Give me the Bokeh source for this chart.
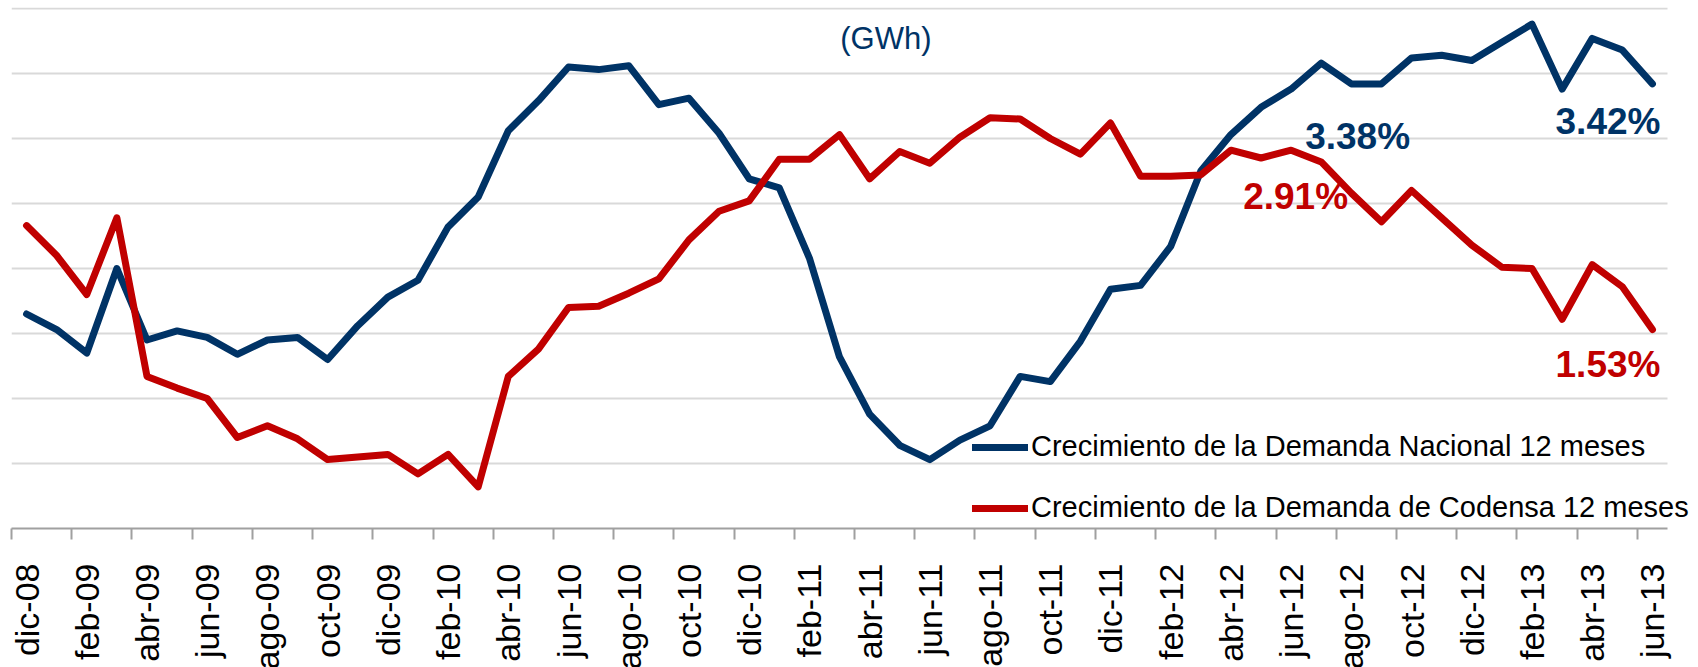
import math
from bokeh.plotting import figure
from bokeh.models import Range1d, FixedTicker, Legend, LegendItem, Label, ColumnDataSource
from bokeh.core.properties import value
from bokeh.embed import file_html
from bokeh.resources import INLINE

# ---------------- data ----------------
months = list(range(55))  # dic-08 .. jun-13
tick_labels = ["dic-08", "feb-09", "abr-09", "jun-09", "ago-09", "oct-09", "dic-09",
               "feb-10", "abr-10", "jun-10", "ago-10", "oct-10", "dic-10", "feb-11",
               "abr-11", "jun-11", "ago-11", "oct-11", "dic-11", "feb-12", "abr-12",
               "jun-12", "ago-12", "oct-12", "dic-12", "feb-13", "abr-13", "jun-13"]
nacional = [1.65, 1.53, 1.35, 2.00, 1.45, 1.52, 1.47, 1.34, 1.45, 1.47, 1.30, 1.56, 1.78, 1.91,
            2.32, 2.55, 3.06, 3.29, 3.55, 3.53, 3.56, 3.26, 3.31, 3.04, 2.69, 2.62, 2.08, 1.32,
            0.88, 0.64, 0.53, 0.68, 0.79, 1.17, 1.13, 1.44, 1.84, 1.87, 2.17, 2.75, 3.03, 3.24,
            3.38, 3.58, 3.42, 3.42, 3.62, 3.64, 3.60, 3.74, 3.88, 3.38, 3.77, 3.68, 3.42]
codensa = [2.33, 2.10, 1.80, 2.39, 1.17, 1.08, 1.00, 0.70, 0.79, 0.69, 0.53, 0.55, 0.57, 0.42,
           0.57, 0.32, 1.17, 1.38, 1.70, 1.71, 1.81, 1.92, 2.22, 2.44, 2.52, 2.84, 2.84, 3.03,
           2.69, 2.90, 2.81, 3.01, 3.16, 3.15, 3.00, 2.88, 3.12, 2.71, 2.71, 2.72, 2.91, 2.85,
           2.91, 2.82, 2.58, 2.36, 2.60, 2.39, 2.18, 2.01, 2.00, 1.61, 2.03, 1.86, 1.53]
series_names = ["Crecimiento de la Demanda Nacional 12 meses",
                "Crecimiento de la Demanda de Codensa 12 meses"]
subtitle = "(GWh)"
y_grid_values = [0.5, 1.0, 1.5, 2.0, 2.5, 3.0, 3.5, 4.0]

# ---------------- style ----------------
NAVY = "#003366"
RED = "#C00000"
FONT = "Liberation Sans"
PX_Y = 130.0                      # pixels per 1 %
PX_X = 1656 / len(months)         # pixels per month
FRAME_W, FRAME_H = 1679, 521
X0, X1 = -0.5, len(months) - 0.5  # category extent

p = figure(frame_width=FRAME_W, frame_height=FRAME_H,
           min_border_left=11, min_border_right=0, min_border_top=7, min_border_bottom=131,
           x_range=Range1d(X0, X0 + FRAME_W / PX_X), y_range=Range1d(0, FRAME_H / PX_Y),
           output_backend="svg", toolbar_location=None,
           background_fill_color="white", border_fill_color="white")
p.outline_line_color = None
p.yaxis.visible = False
p.xgrid.visible = False
p.ygrid.visible = False

# horizontal gridlines limited to the category extent
p.segment(x0=[X0] * len(y_grid_values), x1=[X1] * len(y_grid_values),
          y0=y_grid_values, y1=y_grid_values, line_color="#D9D9D9", line_width=2)

# x axis: labels at every 2nd month centre, tick marks at category boundaries
xa = p.xaxis[0]
xa.bounds = (X0, X1)
xa.ticker = FixedTicker(ticks=months[::2],
                        minor_ticks=[m - 0.5 for m in months[::2]])
xa.major_label_overrides = {m: lab for m, lab in zip(months[::2], tick_labels)}
xa.major_label_orientation = math.pi / 2
xa.major_label_text_font = FONT
xa.major_label_text_font_size = "34px"
xa.major_label_text_color = "black"
xa.major_label_standoff = 24
xa.major_tick_line_color = None
xa.major_tick_out = 0
xa.major_tick_in = 0
xa.minor_tick_line_color = "#A0A0A0"
xa.minor_tick_line_width = 2
xa.minor_tick_out = 11
xa.minor_tick_in = 0
xa.axis_line_color = "#A0A0A0"
xa.axis_line_width = 2

r1 = p.line(months, nacional, line_color=NAVY, line_width=7,
            line_join="round", line_cap="round")
r2 = p.line(months, codensa, line_color=RED, line_width=7,
            line_join="round", line_cap="round")

# ---------------- value labels ----------------
last = len(months) - 1
mid = 42  # jun-12
right_lab = ColumnDataSource(dict(
    x=[last + 8 / PX_X, last + 8 / PX_X],
    y=[nacional[last] - 38 / PX_Y, codensa[last] - 35 / PX_Y],
    text=[f"{nacional[last]:.2f}%", f"{codensa[last]:.2f}%"],
    color=[NAVY, RED]))
p.text(x="x", y="y", text="text", text_color="color", source=right_lab,
       text_align="right", text_baseline="middle", text_font=value(FONT),
       text_font_style="bold", text_font_size="37px")
mid_lab = ColumnDataSource(dict(
    x=[mid + 14 / PX_X, mid - 48 / PX_X],
    y=[nacional[mid] - 47 / PX_Y, codensa[mid] - 46 / PX_Y],
    text=[f"{nacional[mid]:.2f}%", f"{codensa[mid]:.2f}%"],
    color=[NAVY, RED]))
p.text(x="x", y="y", text="text", text_color="color", source=mid_lab,
       text_align="left", text_baseline="middle", text_font=value(FONT),
       text_font_style="bold", text_font_size="37px")

p.add_layout(Label(x=28.54, y=3.77, text=subtitle, text_align="center",
                   text_baseline="middle", text_font=FONT, text_font_size="31px",
                   text_color=NAVY))

# ---------------- legend ----------------
legend = Legend(items=[LegendItem(label=series_names[0], renderers=[r1]),
                       LegendItem(label=series_names[1], renderers=[r2])],
                location=(961, 4), orientation="vertical",
                glyph_width=56, glyph_height=20, label_standoff=3, spacing=28,
                padding=0, margin=0, border_line_color=None, background_fill_alpha=0,
                label_text_font=FONT, label_text_font_size="29px", label_text_color="black")
p.add_layout(legend)

open("out.html", "w").write(file_html(p, INLINE))
